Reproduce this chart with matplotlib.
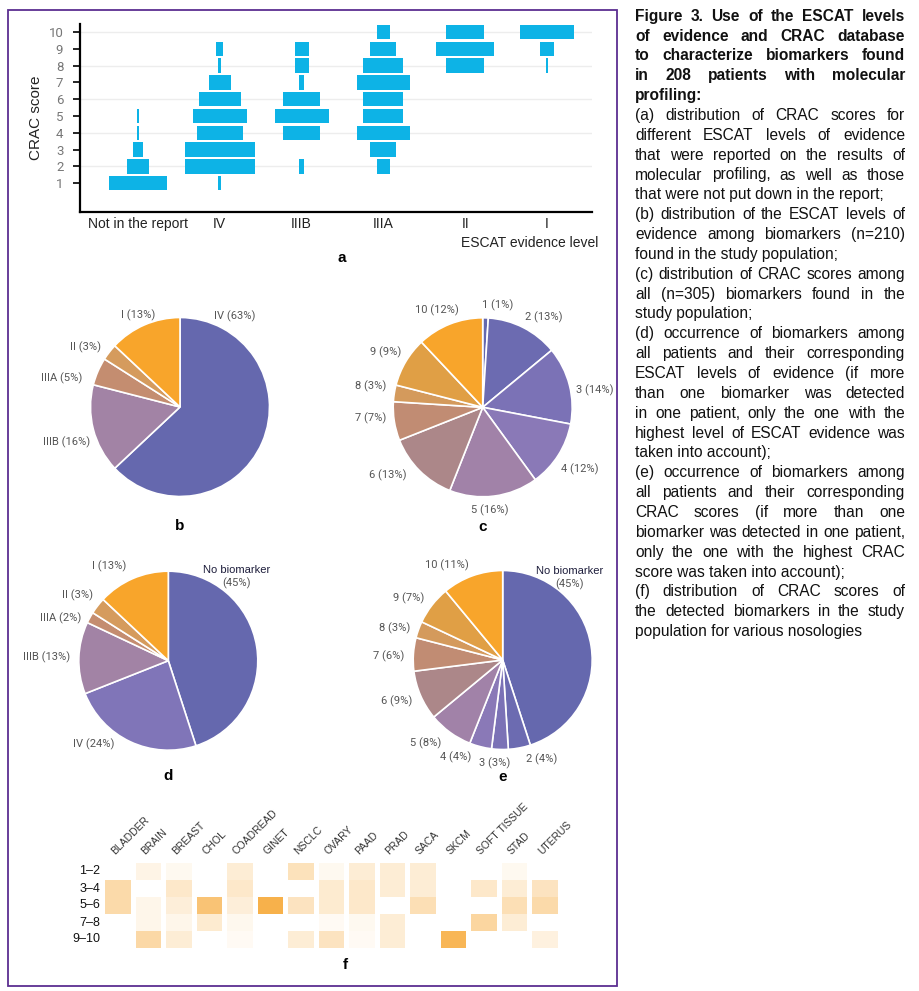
import numpy as np
import matplotlib
matplotlib.use('Agg')
import matplotlib.pyplot as plt
from matplotlib.patches import Rectangle
from matplotlib.font_manager import FontProperties

# ---- data ----
scores = list(range(1, 11))
escat_levels = ['Not in the report', 'IV', 'IIIB', 'IIIA', 'II', 'I']
# relative bar widths per CRAC score (1..10) for each ESCAT level
w_not_report = [0.72, 0.28, 0.12, 0.025, 0.025, 0, 0, 0, 0, 0]
w_iv = [0.04, 0.86, 0.86, 0.56, 0.66, 0.51, 0.27, 0.04, 0.09, 0]
w_iiib = [0, 0.07, 0, 0.46, 0.66, 0.46, 0.07, 0.17, 0.17, 0]
w_iiia = [0, 0.15, 0.32, 0.65, 0.49, 0.49, 0.65, 0.49, 0.32, 0.15]
w_ii = [0, 0, 0, 0, 0, 0, 0, 0.46, 0.71, 0.46]
w_i = [0, 0, 0, 0, 0, 0, 0, 0.015, 0.17, 0.66]

b_labels = ['IV', 'IIIB', 'IIIA', 'II', 'I']
b_pct = [63, 16, 5, 3, 13]
c_labels = ['1', '2', '3', '4', '5', '6', '7', '8', '9', '10']
c_pct = [1, 13, 14, 12, 16, 13, 7, 3, 9, 12]
d_labels = ['No biomarker', 'IV', 'IIIB', 'IIIA', 'II', 'I']
d_pct = [45, 24, 13, 2, 3, 13]
e_labels = ['No biomarker', '2', '3', '4', '5', '6', '7', '8', '9', '10']
e_pct = [45, 4, 3, 4, 8, 9, 6, 3, 7, 11]

nosologies = ['BLADDER', 'BRAIN', 'BREAST', 'CHOL', 'COADREAD', 'GINET', 'NSCLC',
              'OVARY', 'PAAD', 'PRAD', 'SACA', 'SKCM', 'SOFT TISSUE', 'STAD', 'UTERUS']
crac_bins = ['1–2', '3–4', '5–6', '7–8', '9–10']
# share per bin (1-2, 3-4, 5-6, 7-8, 9-10) for each nosology
heat = [
    [0, 0.40, 0.40, 0, 0],
    [0.12, 0, 0.10, 0.10, 0.42],
    [0.07, 0.25, 0.18, 0.10, 0.20],
    [0, 0, 0.65, 0.22, 0],
    [0.20, 0.25, 0.18, 0.08, 0.05],
    [0, 0, 0.85, 0, 0],
    [0.32, 0, 0.30, 0, 0.20],
    [0.07, 0.22, 0.22, 0.05, 0.30],
    [0.20, 0.25, 0.25, 0.07, 0.05],
    [0.20, 0.20, 0, 0.20, 0.20],
    [0.20, 0.20, 0.35, 0, 0],
    [0, 0, 0, 0, 0.80],
    [0, 0.25, 0, 0.45, 0],
    [0.07, 0.20, 0.35, 0.20, 0],
    [0, 0.30, 0.40, 0, 0.15],
]

caption = [
    ('Figure 3. Use of the ESCAT levels', True, False),
    ('of evidence and CRAC database', True, False),
    ('to characterize biomarkers found', True, False),
    ('in 208 patients with molecular', True, False),
    ('profiling:', True, True),
    ('(a) distribution of CRAC scores for', False, False),
    ('different ESCAT levels of evidence', False, False),
    ('that were reported on the results of', False, False),
    ('molecular profiling, as well as those', False, False),
    ('that were not put down in the report;', False, True),
    ('(b) distribution of the ESCAT levels of', False, False),
    ('evidence among biomarkers (n=210)', False, False),
    ('found in the study population;', False, True),
    ('(c) distribution of CRAC scores among', False, False),
    ('all (n=305) biomarkers found in the', False, False),
    ('study population;', False, True),
    ('(d) occurrence of biomarkers among', False, False),
    ('all patients and their corresponding', False, False),
    ('ESCAT levels of evidence (if more', False, False),
    ('than one biomarker was detected', False, False),
    ('in one patient, only the one with the', False, False),
    ('highest level of ESCAT evidence was', False, False),
    ('taken into account);', False, True),
    ('(e) occurrence of biomarkers among', False, False),
    ('all patients and their corresponding', False, False),
    ('CRAC scores (if more than one', False, False),
    ('biomarker was detected in one patient,', False, False),
    ('only the one with the highest CRAC', False, False),
    ('score was taken into account);', False, True),
    ('(f) distribution of CRAC scores of', False, False),
    ('the detected biomarkers in the study', False, False),
    ('population for various nosologies', False, True),
]

# ---- style ----
ARIAL = 'Liberation Sans'
DIN = 'Roboto'
cyan = '#0db3e6'
purple = ['#6568ae', '#6c6bb1', '#7b72b6', '#8a79b7', '#a182a8',
          '#ac8789', '#c18c73', '#d49a5c', '#e09f45', '#f8a52b']
b_colors = ['#6568ae', '#a283a5', '#c48d70', '#d59b5d', '#f8a52b']
c_colors = ['#6568ae'] + purple[1:]
d_colors = ['#6568ae', '#8075b8', '#a283a5', '#c48d70', '#d59b5d', '#f8a52b']
e_colors = ['#6568ae'] + purple[1:]

W, H = 919, 991
fig = plt.figure(figsize=(W / 100, H / 100), dpi=100)


def px_axes(x0, y0, x1, y1):
    return fig.add_axes([x0 / W, 1 - y1 / H, (x1 - x0) / W, (y1 - y0) / H])


def px_text(x, y, s, **kw):
    return fig.text(x / W, 1 - y / H, s, **kw)


# frame
fig.add_artist(Rectangle((8 / W, 1 - 986 / H), (617 - 8) / W, (986 - 10) / H,
                         transform=fig.transFigure, fill=False,
                         edgecolor='#5c2e91', linewidth=1.3))

# ---- panel a ----
ax = px_axes(80, 23.6, 592, 211.8)
all_w = [w_not_report, w_iv, w_iiib, w_iiia, w_ii, w_i]
for i, ws in enumerate(all_w):
    ws = np.array(ws)
    ax.barh(scores, ws, left=i - ws / 2, height=0.86, color=cyan, zorder=3)
for v in [2, 4, 6, 8, 10]:
    ax.axhline(v, color='#ededed', lw=1, zorder=0)
ax.set_xlim(-0.709, 5.55)
ax.set_ylim(-0.7, 10.5)
ax.set_yticks(scores)
ax.set_yticklabels([str(s) for s in scores], color='#777777', fontsize=9.5, family=DIN)
ax.set_xticks(range(len(escat_levels)))
ax.set_xticklabels(escat_levels, fontsize=10, family=ARIAL, color='#222222')
ax.tick_params(axis='x', length=0, pad=4)
ax.tick_params(axis='y', length=5, width=1.2, pad=7)
for s in ['top', 'right']:
    ax.spines[s].set_visible(False)
for s in ['left', 'bottom']:
    ax.spines[s].set_linewidth(1.6)
ax.set_ylabel('CRAC score', fontsize=11, family=ARIAL, color='#222222')
ax.yaxis.set_label_coords(-0.072, 0.5)
px_text(530, 243, 'ESCAT evidence level', fontsize=10, family=ARIAL, color='#222222',
        ha='center', va='center')
px_text(342, 258, 'a', fontsize=11, family=ARIAL, weight='bold', ha='center', va='center')

# ---- pies ----
R = 89.5


def draw_pie(cx, cy, pct, colors, labels, pos, letter, letter_y):
    pa = px_axes(cx - R, cy - R, cx + R, cy + R)
    pa.pie(pct, colors=colors, startangle=90, counterclock=False, radius=1,
           wedgeprops=dict(edgecolor='white', linewidth=1.2))
    pa.set_xlim(-1, 1)
    pa.set_ylim(-1, 1)
    pa.axis('off')
    for lab, p, (x, y) in zip(labels, pct, pos):
        if lab == 'No biomarker':
            pa.text(x, y + 0.075, lab, fontsize=8, family=ARIAL, color='#1e1e3c',
                    ha='center', va='center', clip_on=False)
            pa.text(x, y - 0.075, f'({p}%)', fontsize=8, family=DIN, color='#555555',
                    ha='center', va='center', clip_on=False)
        else:
            pa.text(x, y, f'{lab} ({p}%)', fontsize=8, family=DIN, color='#555555',
                    ha='center', va='center', clip_on=False)
    px_text(cx, letter_y, letter, fontsize=11, family=ARIAL, weight='bold',
            ha='center', va='center')


b_pos = [(0.61, 1.01), (-1.27, -0.39), (-1.32, 0.32), (-1.06, 0.67), (-0.47, 1.03)]
c_pos = [(0.17, 1.14), (0.68, 1.01), (1.25, 0.19), (1.08, -0.69), (0.08, -1.15),
         (-1.06, -0.76), (-1.25, -0.12), (-1.25, 0.23), (-1.09, 0.61), (-0.51, 1.08)]
d_pos = [(0.76, 0.94), (-0.83, -0.93), (-1.36, 0.04), (-1.2, 0.47), (-1.02, 0.73),
         (-0.66, 1.05)]
e_pos = [(0.75, 0.92), (0.43, -1.11), (-0.09, -1.15), (-0.53, -1.09), (-0.86, -0.93),
         (-1.18, -0.46), (-1.27, 0.04), (-1.21, 0.35), (-1.05, 0.69), (-0.62, 1.06)]

draw_pie(180, 407, b_pct, b_colors, b_labels, b_pos, 'b', 526)
draw_pie(482.7, 407.3, c_pct, c_colors, c_labels, c_pos, 'c', 527)
draw_pie(168.3, 660.7, d_pct, d_colors, d_labels, d_pos, 'd', 776)
draw_pie(502.7, 660, e_pct, e_colors, e_labels, e_pos, 'e', 777)

# ---- panel f heatmap ----
hx = px_axes(102.75, 863, 560.25, 948)
orange = np.array([0.965, 0.64, 0.17])
for j, col in enumerate(heat):
    for i, v in enumerate(col):
        if v > 0:
            c = 1 - v * (1 - orange)
            hx.bar(j, 1, bottom=i - 0.5, width=0.85, color=c, linewidth=0)
hx.set_xlim(-0.5, len(nosologies) - 0.5)
hx.set_ylim(len(crac_bins) - 0.5, -0.5)
hx.axis('off')
for i, lab in enumerate(crac_bins):
    hx.text(-0.58, i, lab, ha='right', va='center', fontsize=9, family=ARIAL,
            color='#111111', clip_on=False)
for j, lab in enumerate(nosologies):
    hx.text(j - 0.1, -0.95, lab, rotation=45, rotation_mode='anchor', ha='left',
            va='baseline', fontsize=7.5, family=ARIAL, color='#333333', clip_on=False)
px_text(345, 965, 'f', fontsize=11, family=ARIAL, weight='bold', ha='center', va='center')

# ---- caption (justified) ----
renderer = fig.canvas.get_renderer()
x_left, x_right = 635, 905
for k, (line, bold, last) in enumerate(caption):
    y = 20.7 + 19.85 * k
    fp = FontProperties(family=ARIAL, size=11.2, weight='bold' if bold else 'normal')
    words = line.split()
    if last or len(words) < 2:
        px_text(x_left, y, line, fontproperties=fp, va='baseline', color='#111111')
        continue
    widths = [renderer.get_text_width_height_descent(w, fp, ismath=False)[0] for w in words]
    gap = (x_right - x_left - sum(widths)) / (len(words) - 1)
    x = x_left
    for w, wd in zip(words, widths):
        px_text(x, y, w, fontproperties=fp, va='baseline', color='#111111')
        x += wd + gap

fig.savefig('out.png', dpi=100)
